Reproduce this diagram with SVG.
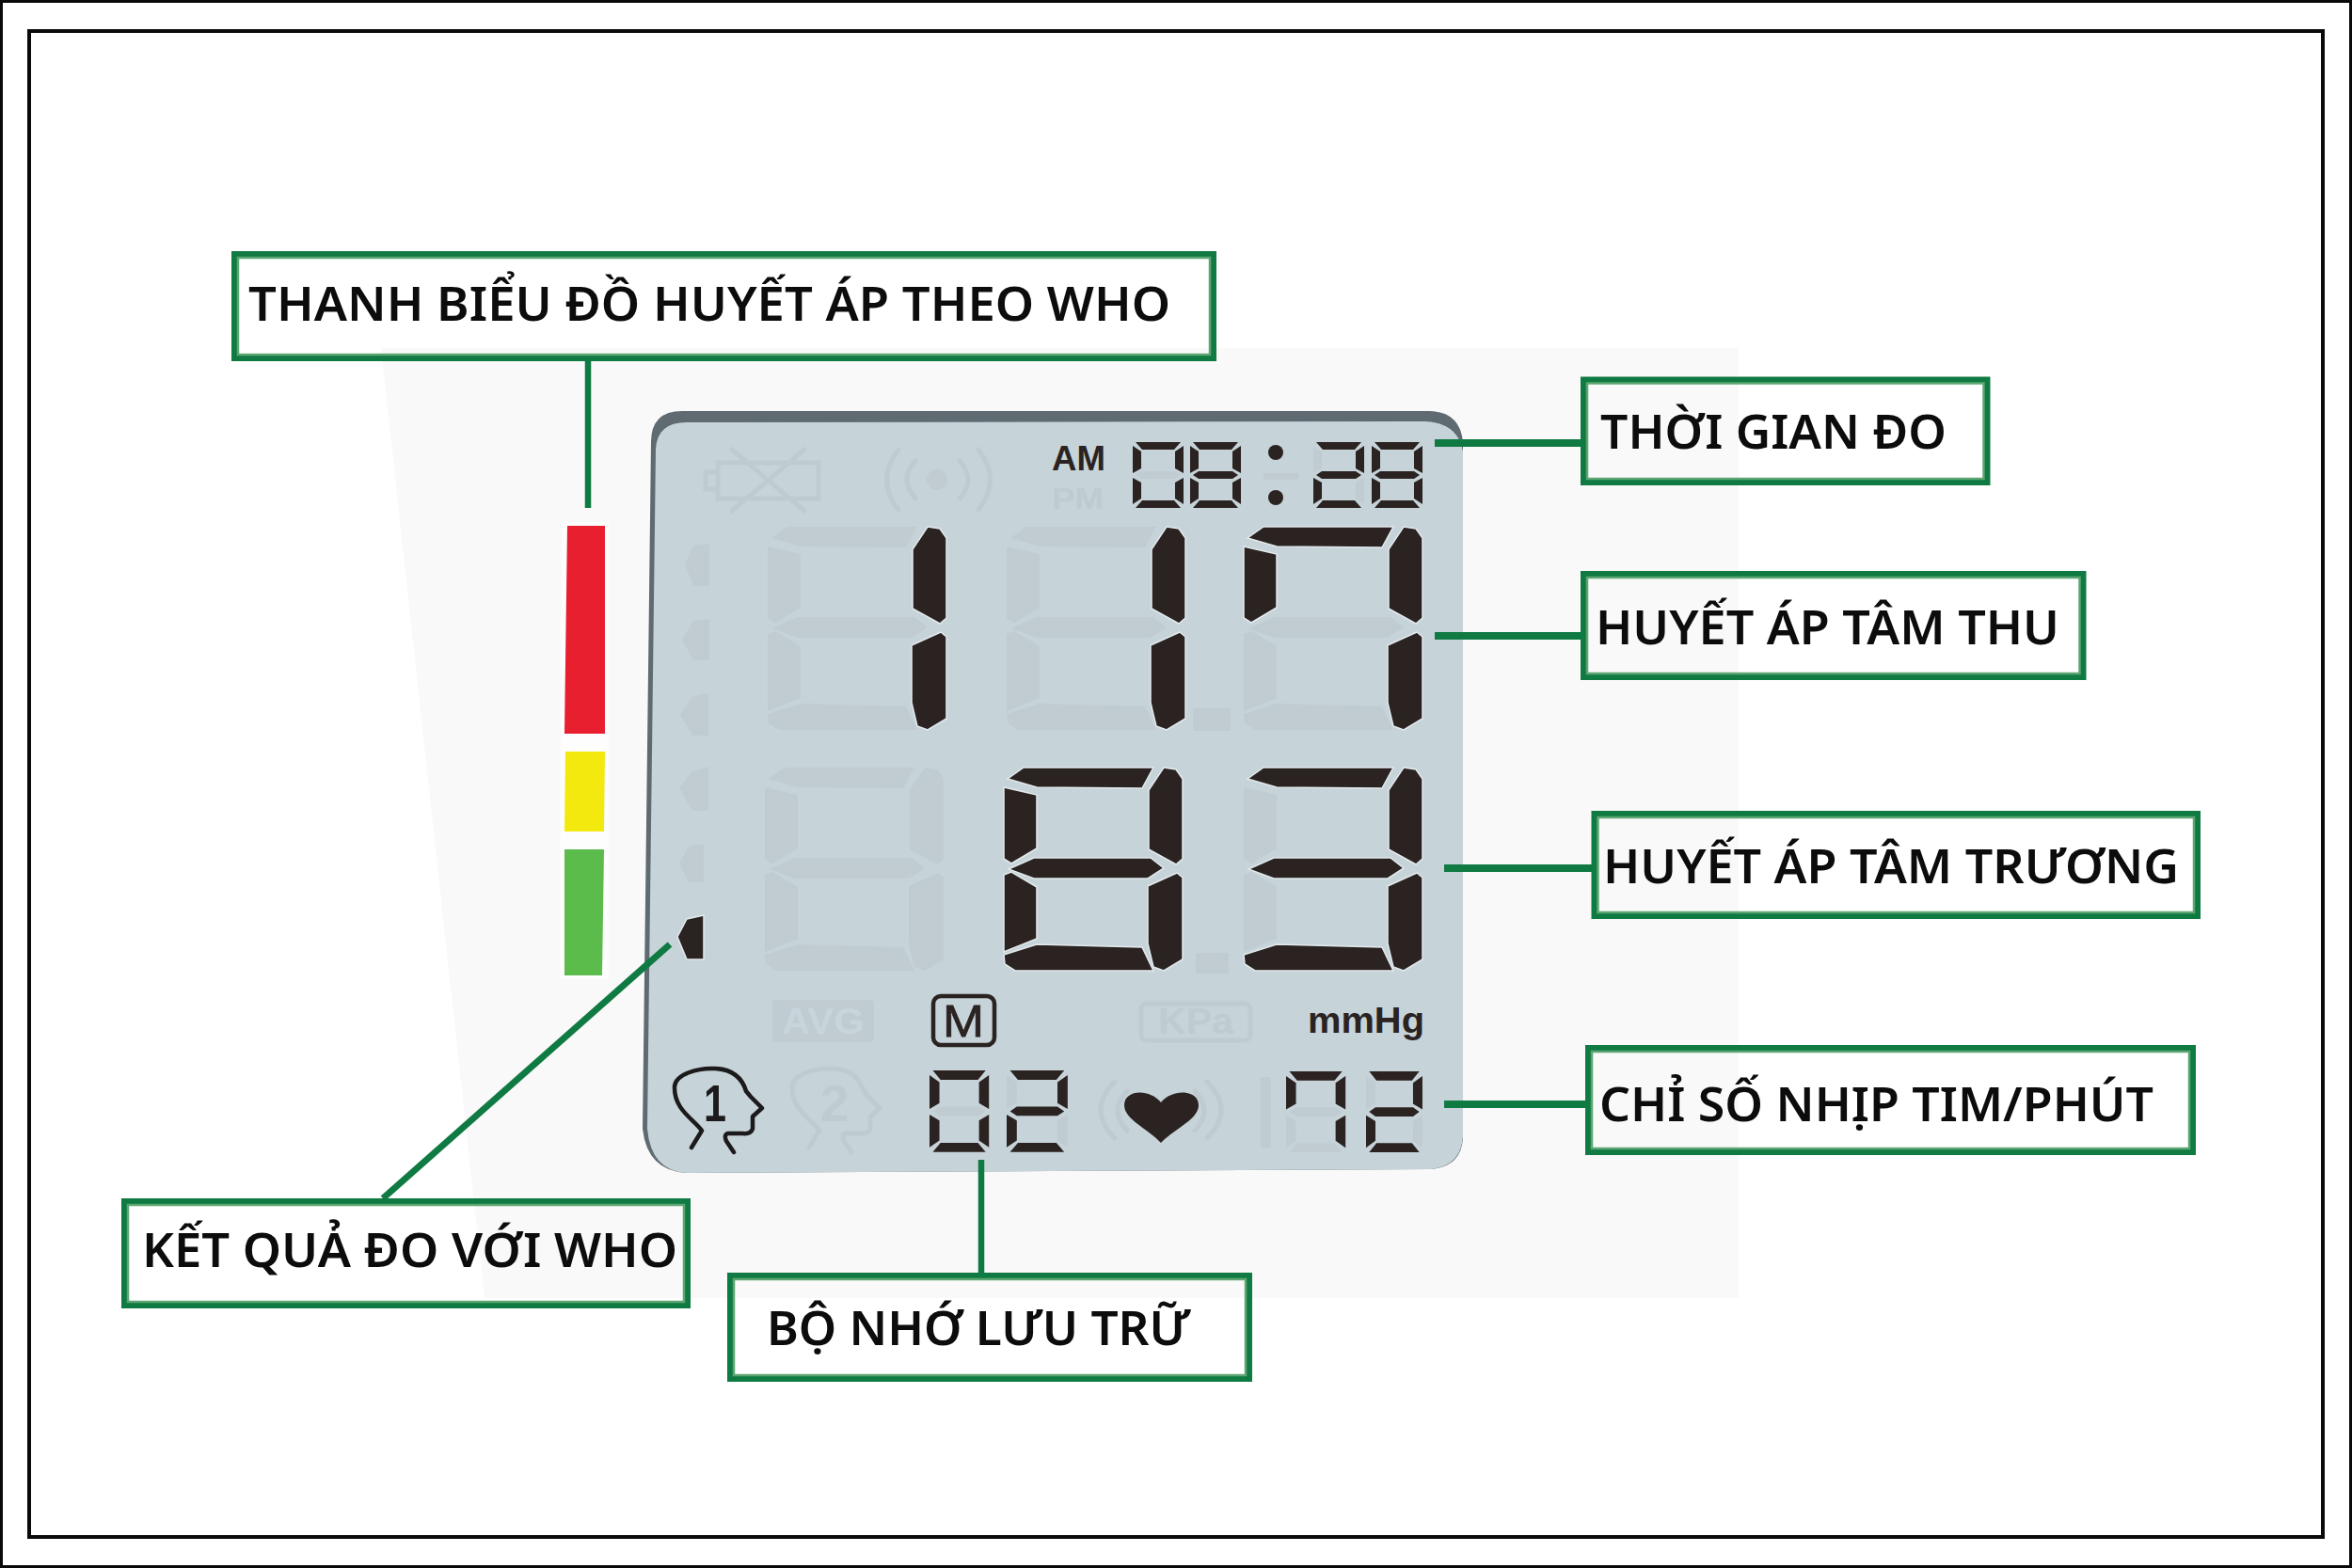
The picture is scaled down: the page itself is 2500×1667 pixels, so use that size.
<svg xmlns="http://www.w3.org/2000/svg" width="2500" height="1667" viewBox="0 0 2500 1667">
<style>
.frame{fill:none;stroke:#0a0a0a}
.bx{fill:none;stroke:#0f7a42;stroke-width:7}
.bxi{fill:none;stroke:#5da673;stroke-width:2.5}
.conn{fill:none;stroke:#0f7a42}
.lbl{font-family:"Noto Sans","Liberation Sans",sans-serif;font-weight:600;font-size:51px;fill:#0c0c0c}
.gh{fill:#c0ccd1}
.gl{fill:none;stroke:#bfcbd0;stroke-width:5;stroke-linecap:round}
.on{fill:#2b2321;stroke:#e3eaed;stroke-width:1.5}
.sm{fill:#2b2321}
.sans{font-family:"Liberation Sans",Arial,sans-serif}
</style>
<defs>
<polygon id="ba" points="6,13 23,1 161,1 149,23 37,22"/>
<polygon id="bf" points="2,22 37,30 37,87 10,103 2,98"/>
<polygon id="bb" points="172,1 185,3 192,13 192,98 185,104 156,88 156,25"/>
<polygon id="bg" points="7,109 34,97 158,97 172,108 155,119 34,119"/>
<polygon id="bc" points="186,113 192,118 192,205 172,217 161,213 155,188 155,127"/>
<polygon id="be" points="2,115 10,112 37,128 37,183 2,197"/>
<polygon id="bd" points="2,200 37,189 149,192 161,217 14,217 3,210"/>
<g id="bghost" class="gh"><use href="#ba"/><use href="#bf"/><use href="#bb"/><use href="#bg"/><use href="#bc"/><use href="#be"/><use href="#bd"/></g>
<polygon id="sa" points="3,0 51,0 44,8 10,8"/>
<polygon id="sf" points="0,4 9,10 9,28 0,33"/>
<polygon id="sb" points="54,4 45,10 45,28 54,33"/>
<polygon id="sg" points="3,35 9,31 45,31 51,35 45,39 9,39"/>
<polygon id="se" points="0,38 9,43 9,60 0,66"/>
<polygon id="sc" points="54,38 45,43 45,60 54,66"/>
<polygon id="sd" points="3,70 10,62 44,62 51,70"/>
<g id="sghost" class="gh"><use href="#sa"/><use href="#sf"/><use href="#sb"/><use href="#sg"/><use href="#se"/><use href="#sc"/><use href="#sd"/></g>
<g id="s0" class="sm"><use href="#sa"/><use href="#sf"/><use href="#sb"/><use href="#se"/><use href="#sc"/><use href="#sd"/></g>
<g id="s2" class="sm"><use href="#sa"/><use href="#sb"/><use href="#sg"/><use href="#se"/><use href="#sd"/></g>
<g id="s7" class="sm"><use href="#sa"/><use href="#sf"/><use href="#sb"/><use href="#sc"/></g>
<g id="s8" class="sm"><use href="#sa"/><use href="#sf"/><use href="#sb"/><use href="#sg"/><use href="#se"/><use href="#sc"/><use href="#sd"/></g>
<path id="head" d="M735 1220 L746 1202 C738 1190 716 1180 717 1155 C718 1142 742 1135 760 1136 C782 1137 790 1150 793 1160 L798 1166 L810 1178 L800 1187 L800 1200 Q798 1206 789 1205 L774 1205 Q769 1206 772 1213 L780 1225"/>
<polygon id="arrow" points="748,973 730,977 720,996 730,1020 748,1020"/>
</defs>

<rect id="background" width="2500" height="1667" fill="#ffffff"/>
<polygon id="shade" points="405,370 1848,370 1848,1380 515,1380" fill="#f9f9f9"/>
<rect class="frame" x="1.5" y="1.5" width="2497" height="1664" stroke-width="3"/>
<rect class="frame" x="31" y="33" width="2438" height="1601" stroke-width="4"/>

<g id="who-bar">
<polygon points="597,555 647,555 647,1041 595,1041" fill="#fdfdfd"/>
<polygon points="603,559 643,559 643,780 600,780" fill="#e81f2e"/>
<polygon points="601,799 643,799 642,884 600,884" fill="#f4e90f"/>
<polygon points="600,903 642,903 640,1037 600,1037" fill="#5bbb4b"/>
</g>

<g id="lcd">
<path d="M692 470 Q692 437 725 437 L1520 437 Q1552 438 1555 470 L1555 1210 Q1553 1241 1520 1243 L730 1247 Q688 1245 683 1200 Z" fill="#5f6b71"/>
<path d="M697 478 Q698 449 730 449 L1515 448 Q1550 450 1555 480 L1555 1208 Q1553 1240 1520 1243 L730 1247 Q692 1245 688 1200 Z" fill="#c6d3d9"/>

<g id="lcd-ghost-icons">
<path class="gl" d="M763 492 H870 V530 H763 Z M763 502 H750 V520 H763 M778 478 L855 543 M855 478 L778 543"/>
<circle cx="996" cy="510" r="11" class="gh"/>
<path class="gl" d="M955 478 Q930 510 955 542 M1040 478 Q1065 510 1040 542 M973 490 Q955 510 973 530 M1020 490 Q1038 510 1020 530"/>
<polygon class="gh" points="754,578 737,580 728,600 737,623 754,623"/>
<polygon class="gh" points="754,658 737,660 725,680 737,702 754,702"/>
<polygon class="gh" points="753,737 736,740 723,760 736,782 753,782"/>
<polygon class="gh" points="753,815 736,820 722,838 736,862 753,862"/>
<polygon class="gh" points="748,897 732,900 722,918 732,938 748,938"/>
<rect class="gh" x="1268" y="753" width="40" height="24"/>
<rect class="gh" x="1271" y="1013" width="35" height="22"/>
<rect class="gh" x="1343" y="503" width="37" height="7"/>
<text class="sans" x="1118" y="541" font-size="32" font-weight="700" fill="#bfcbd0" textLength="55" lengthAdjust="spacingAndGlyphs">PM</text>
<rect class="gh" x="821" y="1063" width="108" height="45" rx="4"/>
<text class="sans" x="875" y="1099" font-size="38" font-weight="700" fill="#c8d5db" text-anchor="middle" textLength="88" lengthAdjust="spacingAndGlyphs">AVG</text>
<rect x="1213" y="1067" width="116" height="39" rx="6" fill="none" stroke="#bfcbd0" stroke-width="5"/>
<text class="sans" x="1271" y="1099" font-size="38" font-weight="700" fill="#bfcbd0" text-anchor="middle" textLength="80" lengthAdjust="spacingAndGlyphs">KPa</text>
<g transform="translate(125,0)"><use href="#head" class="gl"/></g>
<text class="sans" x="887" y="1192" font-size="55" font-weight="700" fill="#bfcbd0" text-anchor="middle">2</text>
<path class="gl" d="M1185 1150 Q1155 1180 1185 1210 M1283 1150 Q1313 1180 1283 1210 M1198 1160 Q1178 1180 1198 1202 M1270 1160 Q1290 1180 1270 1202"/>
<rect class="gh" x="1340" y="1145" width="11" height="75"/>
</g>

<g id="lcd-digits-ghost">
<use href="#bghost" x="814" y="559"/>
<use href="#bghost" x="1068" y="559"/>
<use href="#bghost" x="1320" y="559"/>
<use href="#bghost" x="811" y="815"/>
<use href="#bghost" x="1320" y="815"/>
</g>
<g id="digit-1a" class="on" transform="translate(814,559)"><use href="#bb"/><use href="#bc"/></g>
<g id="digit-1b" class="on" transform="translate(1068,559)"><use href="#bb"/><use href="#bc"/></g>
<g id="digit-7" class="on" transform="translate(1320,559)"><use href="#ba"/><use href="#bf"/><use href="#bb"/><use href="#bc"/></g>
<g id="digit-8" class="on" transform="translate(1065,815)"><use href="#ba"/><use href="#bf"/><use href="#bb"/><use href="#bg"/><use href="#bc"/><use href="#be"/><use href="#bd"/></g>
<g id="digit-3" class="on" transform="translate(1320,815)"><use href="#ba"/><use href="#bb"/><use href="#bg"/><use href="#bc"/><use href="#bd"/></g>

<g id="clock">
<text class="sans" x="1118" y="500" font-size="36" font-weight="700" fill="#2b2321" textLength="57" lengthAdjust="spacingAndGlyphs">AM</text>
<use href="#sghost" x="1204" y="470"/><use href="#s0" x="1204" y="470"/>
<use href="#sghost" x="1265" y="470"/><use href="#s8" x="1265" y="470"/>
<circle cx="1356" cy="481" r="8" fill="#2b2321"/><circle cx="1356" cy="529" r="8" fill="#2b2321"/>
<use href="#sghost" x="1396" y="470"/><use href="#s2" x="1396" y="470"/>
<use href="#sghost" x="1458" y="470"/><use href="#s8" x="1458" y="470"/>
</g>

<use id="pointer" href="#arrow" fill="#2b2321" stroke="#e3eaed" stroke-width="1.5"/>

<g id="memory">
<rect x="992" y="1059" width="65" height="52" rx="8" fill="none" stroke="#2b2321" stroke-width="4.500"/>
<text class="sans" x="1024" y="1102" font-size="48" fill="#2b2321" stroke="#2b2321" stroke-width="0.8" text-anchor="middle" textLength="44" lengthAdjust="spacingAndGlyphs">M</text>
<g transform="translate(988,1138) scale(1.17,1.24)"><use href="#sghost"/><use href="#s0"/></g>
<g transform="translate(1070,1138) scale(1.2,1.24)"><use href="#sghost"/><use href="#s2"/></g>
</g>

<text class="sans" x="1390" y="1098" font-size="38" font-weight="700" fill="#2b2321" textLength="124" lengthAdjust="spacingAndGlyphs">mmHg</text>

<g id="user-1">
<use href="#head" fill="none" stroke="#1c1a1a" stroke-width="4.5" stroke-linecap="round" stroke-linejoin="round"/>
<text class="sans" x="760" y="1192" font-size="56" font-weight="700" fill="#1c1a1a" text-anchor="middle" textLength="24" lengthAdjust="spacingAndGlyphs">1</text>
</g>

<path id="heart" d="M1234 1215 C1220 1200 1195 1190 1195 1175 C1195 1158 1222 1157 1234 1172 C1246 1157 1274 1158 1274 1175 C1274 1190 1248 1200 1234 1215 Z" fill="#2b2321"/>

<g id="pulse">
<g transform="translate(1367,1139) scale(1.17,1.23)"><use href="#sghost"/><use href="#s7"/></g>
<g transform="translate(1452,1139) scale(1.11,1.23)"><use href="#sghost"/><use href="#s2"/></g>
</g>
</g>

<g id="connectors">
<path class="conn" stroke-width="6.5" d="M625 384 V540"/>
<path class="conn" stroke-width="8" d="M1525 471 H1680"/>
<path class="conn" stroke-width="8" d="M1525 676 H1680"/>
<path class="conn" stroke-width="8" d="M1535 923 H1692"/>
<path class="conn" stroke-width="8" d="M1535 1174 H1685"/>
<path class="conn" stroke-width="6.5" d="M1043 1233 V1353"/>
<path class="conn" stroke-width="7" d="M407 1274 L712 1004"/>
</g>

<g id="node-who-bar"><rect class="bx" x="249.500" y="270.500" width="1040" height="110"/><rect class="bxi" x="253" y="274" width="1033" height="103"/>
<text class="lbl" x="264" y="341" textLength="980" lengthAdjust="spacingAndGlyphs">THANH BIỂU ĐỒ HUYẾT ÁP THEO WHO</text></g>
<g id="node-time"><rect class="bx" x="1683.500" y="404" width="428.500" height="108.500"/><rect class="bxi" x="1687" y="407.500" width="421.500" height="101.500"/>
<text class="lbl" x="1701" y="477" textLength="368" lengthAdjust="spacingAndGlyphs">THỜI GIAN ĐO</text></g>
<g id="node-systolic"><rect class="bx" x="1683.500" y="610.500" width="530.500" height="109"/><rect class="bxi" x="1687" y="614" width="523.500" height="102"/>
<text class="lbl" x="1696" y="685" textLength="493" lengthAdjust="spacingAndGlyphs">HUYẾT ÁP TÂM THU</text></g>
<g id="node-diastolic"><rect class="bx" x="1695" y="865.500" width="640.500" height="108"/><rect class="bxi" x="1698.500" y="869" width="633.500" height="101"/>
<text class="lbl" x="1704" y="939" textLength="612" lengthAdjust="spacingAndGlyphs">HUYẾT ÁP TÂM TRƯƠNG</text></g>
<g id="node-pulse"><rect class="bx" x="1688.500" y="1114.500" width="642" height="110"/><rect class="bxi" x="1692" y="1118" width="635" height="103"/>
<text class="lbl" x="1700" y="1192" textLength="589" lengthAdjust="spacingAndGlyphs">CHỈ SỐ NHỊP TIM/PHÚT</text></g>
<g id="node-who-result"><rect class="bx" x="132.500" y="1277.500" width="598" height="110"/><rect class="bxi" x="136" y="1281" width="591" height="103"/>
<text class="lbl" x="151" y="1347" textLength="569" lengthAdjust="spacingAndGlyphs">KẾT QUẢ ĐO VỚI WHO</text></g>
<g id="node-memory"><rect class="bx" x="776.500" y="1356.500" width="551" height="109"/><rect class="bxi" x="780" y="1360" width="544" height="102"/>
<text class="lbl" x="815" y="1430" textLength="450" lengthAdjust="spacingAndGlyphs">BỘ NHỚ LƯU TRỮ</text></g>
</svg>
